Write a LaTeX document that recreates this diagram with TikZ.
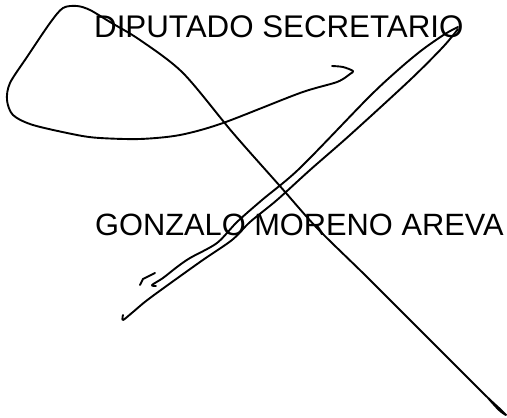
\documentclass[tikz,border=0pt]{standalone}
\usepackage{fontspec}
\setmainfont{Liberation Sans}
\tikzset{pen/.style={line width=1.9pt,line cap=round,line join=round},
  label/.style={anchor=base west,inner sep=0pt,font=\fontsize{31.3}{36}\selectfont}}
\begin{document}
\begin{tikzpicture}[x=1pt,y=-1pt]
\useasboundingbox (0,0) rectangle (507,418);
\node[label] (title) at (94,37) {DIPUTADO SECRETARIO};
\node[label,font=\fontsize{30.8}{36}\selectfont] (name) at (95,235) {GONZALO MORENO AREVA};
\path[draw,pen] plot[smooth,tension=0.5] coordinates {(332,66) (343,67) (353,71) (350,74) (337,82) (300,93) (223,123) (180,135) (140,139) (100,138) (77,135) (33,125) (13,115) (7,100) (10,83) (27,57) (50,23) (63,8) (77,6) (90,10) (110,22) (140,40) (183,73) (233,133) (279,185) (317,228) (367,277) (433,343) (483,393) (500,409) (506,415) (499,410) (488,398)};
\path[draw,pen] plot[smooth,tension=0.5] coordinates {(458,27) (445,34) (422,50) (398,70) (368,98) (300,168) (262,200) (237,222) (217,243) (190,258) (177,267) (163,278) (152,285) (156,286)};
\path[draw,pen] plot[smooth,tension=0.5] coordinates {(458,29) (443,47) (410,80) (350,135) (310,170) (277,200) (250,222) (232,240) (200,262) (150,298) (133,312) (123,320) (123,315)};
\path[draw,pen] (140,285) -- (143,279) -- (155,273);
\end{tikzpicture}
\end{document}
